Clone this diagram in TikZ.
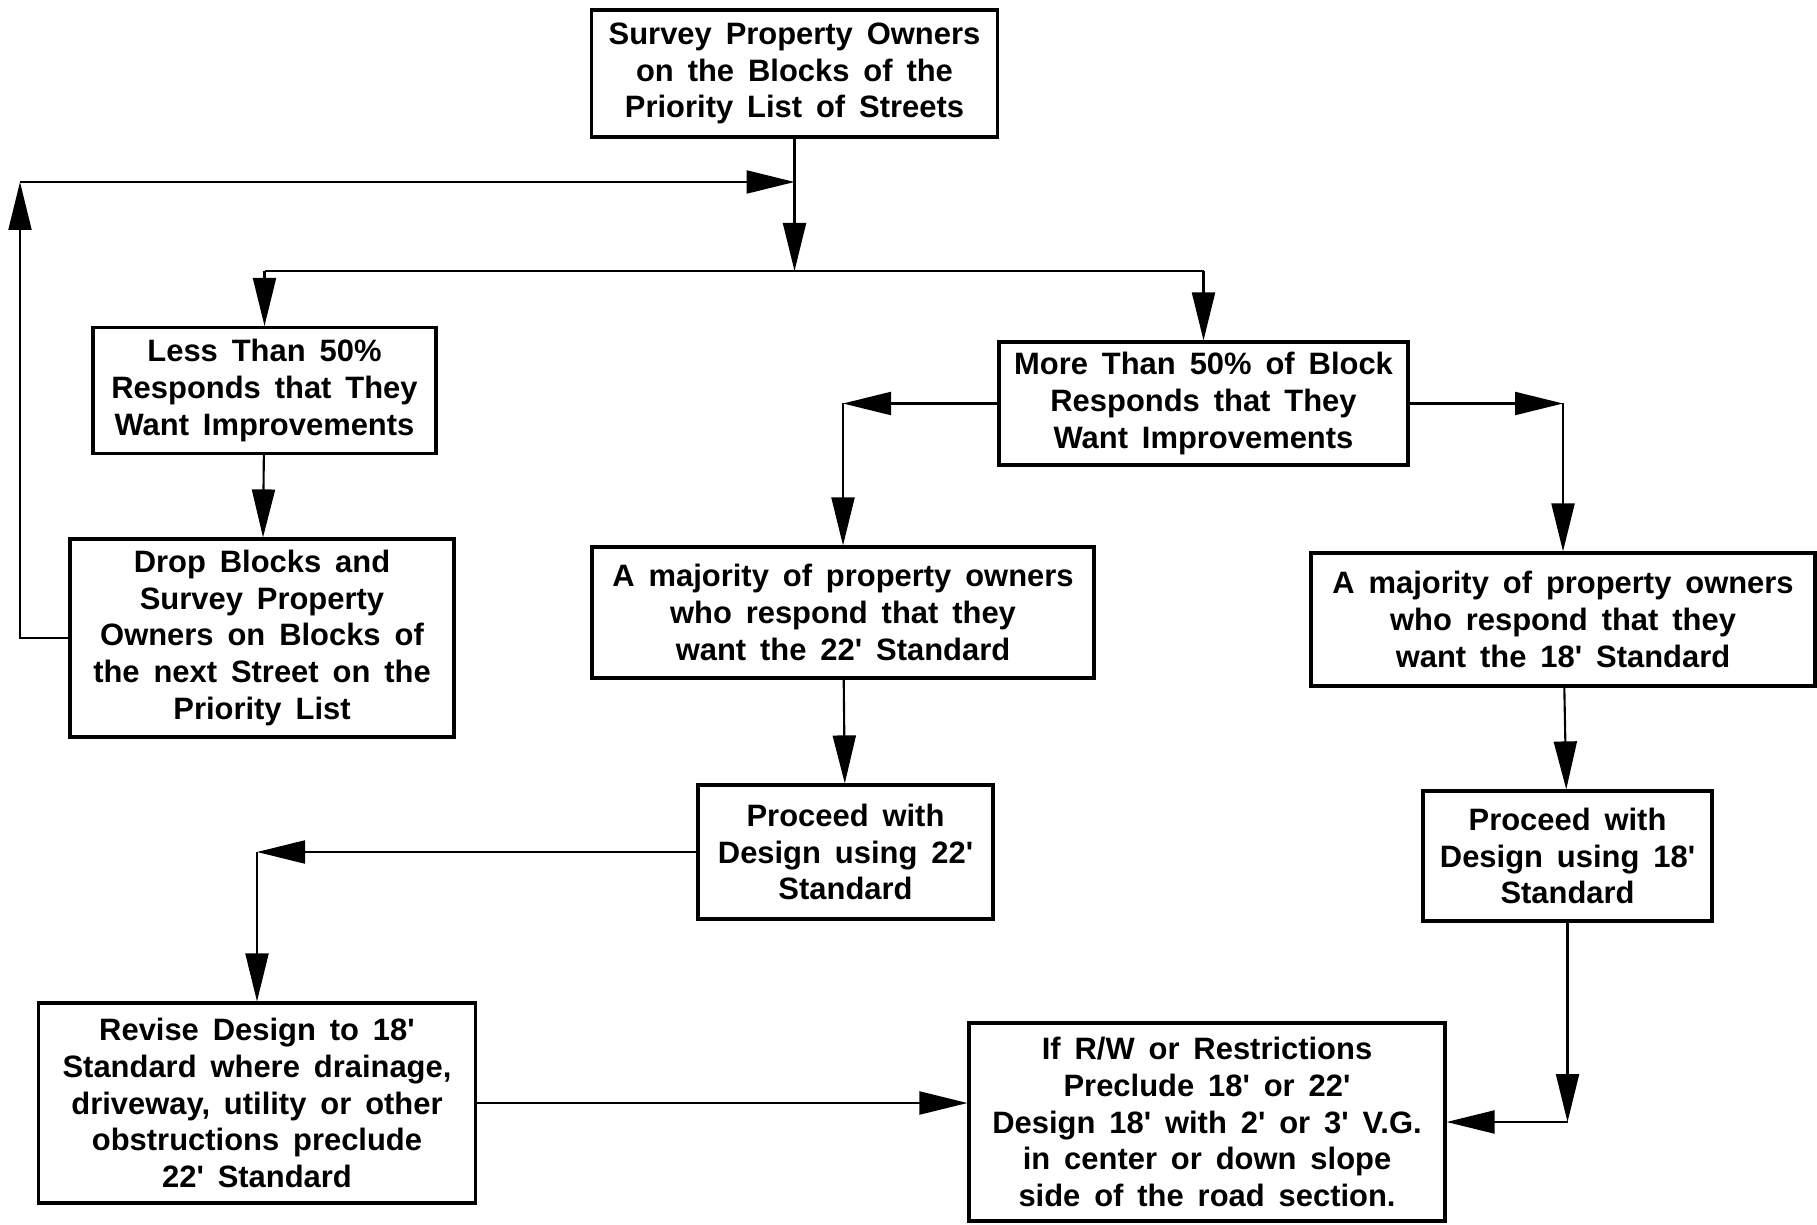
\documentclass[tikz,border=0pt]{standalone}
\usepackage{fontspec}
\setmainfont{Liberation Sans}
\usetikzlibrary{arrows.meta}
\newcommand{\ft}{\textquotesingle}
\newcommand{\boxfont}{\fontsize{8.8}{10.5}\selectfont\bfseries\spaceskip=0.45em plus 0.1em\relax}

\begin{document}
\begin{tikzpicture}[
  box/.style={draw, line width=0.9pt, align=center, inner sep=0pt, font=\boxfont},
  arr/.style={line width=0.6pt, -{Triangle[length=0.48cm,width=0.23cm]}}
]
\useasboundingbox (0,0) rectangle (18.17,-12.25);

\node [box, minimum width=4.06cm, minimum height=1.27cm] (survey) at (7.945,-0.735)
  {Survey Property Owners\\on the Blocks of the\\Priority List of Streets};
\node [box, minimum width=3.43cm, minimum height=1.26cm] (less) at (2.645,-3.905)
  {Less Than 50\%\\Responds that They\\Want Improvements};
\node [box, minimum width=4.09cm, minimum height=1.23cm] (more) at (12.035,-4.035)
  {More Than 50\% of Block\\Responds that They\\Want Improvements};
\node [box, minimum width=3.84cm, minimum height=1.98cm] (drop) at (2.62,-6.38)
  {Drop Blocks and\\Survey Property\\Owners on Blocks of\\the next Street on the\\Priority List};
\node [box, minimum width=5.02cm, minimum height=1.31cm] (want22) at (8.43,-6.125)
  {A majority of property owners\\who respond that they\\want the 22\ft{} Standard};
\node [box, minimum width=5.04cm, minimum height=1.33cm] (want18) at (15.63,-6.195)
  {A majority of property owners\\who respond that they\\want the 18\ft{} Standard};
\node [box, minimum width=2.95cm, minimum height=1.34cm] (go22) at (8.455,-8.52)
  {Proceed with\\Design using 22\ft\\Standard};
\node [box, minimum width=2.89cm, minimum height=1.30cm] (go18) at (15.675,-8.56)
  {Proceed with\\Design using 18\ft\\Standard};
\node [box, minimum width=4.37cm, minimum height=2.0cm] (revise) at (2.57,-11.03)
  {Revise Design to 18\ft\\Standard where drainage,\\driveway, utility or other\\obstructions preclude\\22\ft{} Standard};
\node [box, minimum width=4.76cm, minimum height=1.98cm] (narrow) at (12.07,-11.22)
  {If R/W or Restrictions\\Preclude 18\ft{} or 22\ft\\Design 18\ft{} with 2\ft{} or 3\ft{} V.G.\\in center or down slope\\side of the road section.};

\coordinate (split) at (7.945,-2.71);
\coordinate (back) at (0.2,-1.82);

% split of the survey
\draw [arr] (survey) -- (split);
\draw [line width=0.6pt] (split -| less) -- (split -| more);
\draw [arr] (split -| less) -- (less);
\draw [arr] (split -| more) -- (more);

% back to the survey
\draw [arr] (less) -- (drop);
\draw [arr] (drop.west) -| (back);
\draw [arr] (back) -- (split |- back);

\draw [arr] (more.west) -- (more.west -| want22);
\draw [arr] (more.west -| want22) -- (want22);
\draw [arr] (more.east) -- (more.east -| want18);
\draw [arr] (more.east -| want18) -- (want18);

\draw [arr] (want22) -- (go22);
\draw [arr] (want18) -- (go18);

\draw [arr] (go22.west) -- (go22.west -| revise);
\draw [arr] (go22.west -| revise) -- (revise);
\draw [arr] (revise.east) -- (revise.east -| narrow.west);
\draw [arr] (go18) -- (go18 |- narrow.east);
\draw [arr] (go18 |- narrow.east) -- (narrow.east);

\end{tikzpicture}
\end{document}
